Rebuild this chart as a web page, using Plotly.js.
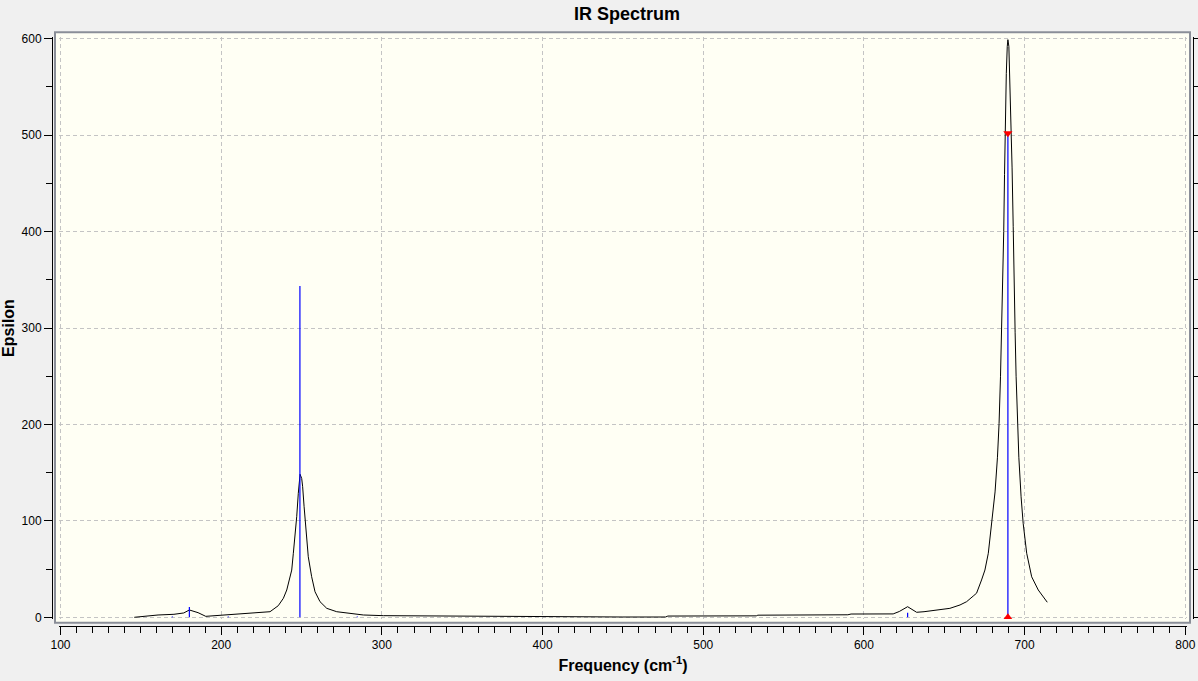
<!DOCTYPE html>
<html>
<head>
<meta charset="utf-8">
<script src="https://cdn.plot.ly/plotly-3.0.1.min.js"></script>
<style>
  html, body { margin: 0; padding: 0; background: #f0f0f0; }
  #chart { width: 1198px; height: 681px; }
</style>
</head>
<body>
<div id="chart"></div>
<script>
// Broadened IR spectrum (black curve)
const specFreq = [145.9, 151.4, 160.7, 170.6, 176.7, 180.2, 185.6, 190.4, 200, 212.9, 217.9, 222.9, 230.4,
  235.5, 238.7, 240.8, 242.4, 243.9, 244.9, 246.0, 247.0, 248.0, 248.6, 249.1, 250.1, 250.7, 251.6, 252.8,
  254.2, 256.3, 258.4, 261.5, 265.7, 271.9, 280.2, 288.5, 300.9, 350, 400, 450, 476.5, 478, 533, 534, 590,
  592, 618.2, 622, 627.2, 632.8, 637.4, 647.3, 653.5, 659.8, 663.9, 668, 670.1, 673.2, 675.3, 677.4, 679.8,
  681.6, 683.1, 684.1, 685.0, 685.7, 686.4, 687.0, 687.5, 688.0, 688.6, 689.2, 689.6, 690.2, 690.8, 691.5,
  692.2, 692.9, 693.3, 694.1, 694.7, 695.5, 696.4, 697.8, 699.1, 701.3, 704.4, 708.5, 714.1];
const specEps = [0, 1.0, 2.4, 3.1, 4.5, 7.6, 4.8, 1.0, 2.1, 3.4, 4.1, 5.2, 5.8,
  12.0, 19.7, 28.3, 38.7, 49, 66.4, 83.6, 104.3, 128.6, 145.8, 148.3, 144, 135.4, 114.7, 87.1,
  62.8, 42.1, 26.5, 16.2, 9.3, 5.8, 4.1, 2.4, 1.7, 1.0, 0.6, 0.3, 0.3, 1.3, 1.5, 2.2, 2.6,
  3.4, 3.5, 6, 11, 5.2, 5.8, 7.6, 9.3, 12.8, 16.2, 22, 25, 38.7, 49, 66.4, 101,
  130, 166, 201, 250, 295, 345, 400, 459, 516, 564, 592, 599, 592, 557, 512,
  466, 405, 345, 295, 250, 201, 166, 125, 97.5, 66.4, 42, 28.3, 15.6];

// Stick spectrum (blue lines): frequencies and intensities
const stickFreq = [169.6, 180.2, 204.4, 249.0, 284.7, 627.2, 689.6];
const stickEps  = [0.8, 10.7, 0.8, 343.6, 0.8, 4.8, 502];

// Selected peak markers (red triangles)
const selFreq = [689.6, 689.6];
const selEps  = [502, 0];
const selSymbols = ['triangle-down', 'triangle-up'];

// Tick settings
const xMajor = 100, xMinor = 10, yMajor = 100, yMinor = 50;

// build stick segments from the arrays
const sx = [], sy = [];
stickFreq.forEach((f, i) => { sx.push(f, f, null); sy.push(0, stickEps[i], null); });

// pixel geometry helpers (layout only)
const W = 1198, H = 681;
const mL = 52, mR = 5, mT = 32, mB = 55;
const pw = W - mL - mR, ph = H - mT - mB;
const px2fx = p => (p - mL) / pw;
const py2fy = p => (H - mB - p) / ph;

const font = 'Liberation Sans, Arial, sans-serif';

const traces = [
  { x: specFreq, y: specEps, type: 'scatter', mode: 'lines',
    line: { color: '#000000', width: 1 }, hoverinfo: 'x+y' },
  { x: sx, y: sy, type: 'scatter', mode: 'lines',
    line: { color: '#0000ff', width: 1.2 }, hoverinfo: 'skip' },
  { x: selFreq, y: selEps, type: 'scatter', mode: 'markers',
    marker: { color: '#ff0000', size: 8, symbol: selSymbols }, hoverinfo: 'skip' },
  { x: [], y: [], yaxis: 'y2', type: 'scatter', mode: 'lines', hoverinfo: 'skip' }
];

const gridStyle = { showgrid: true, gridcolor: '#c4c4c4', gridwidth: 1, griddash: '4px,3px' };

const layout = {
  width: W, height: H,
  margin: { l: mL, r: mR, t: mT, b: mB, pad: 0 },
  paper_bgcolor: '#f0f0f0',
  plot_bgcolor: 'rgba(0,0,0,0)',
  showlegend: false,
  title: { text: 'IR Spectrum', font: { family: font, size: 18, color: '#000', weight: 'bold' },
           x: 627 / W, xanchor: 'center', y: 1 - 14 / H, yanchor: 'middle' },
  xaxis: Object.assign({
    domain: [px2fx(59), px2fx(1187)],
    range: [100 - 1.5 / 1.6067, 800 + 1.7 / 1.6067],
    anchor: 'free', position: 0,
    showline: true, linecolor: '#000', linewidth: 1,
    ticks: 'outside', ticklen: 8, tickcolor: '#000', tickwidth: 1,
    tickmode: 'linear', tick0: 0, dtick: xMajor,
    minor: { dtick: xMinor, ticks: 'outside', ticklen: 6, tickcolor: '#000', showgrid: false },
    zeroline: false,
    tickfont: { family: font, size: 12, color: '#000' },
    title: { text: 'Frequency (cm<sup>-1</sup>)', font: { family: font, size: 16, color: '#000', weight: 'bold' }, standoff: 8 }
  }, gridStyle),
  yaxis: Object.assign({
    domain: [py2fy(619), py2fy(37)],
    range: [-1.7 / 0.9643, 600 + 1.7 / 0.9643],
    anchor: 'free', position: 0,
    showline: true, linecolor: '#000', linewidth: 1,
    ticks: 'outside', ticklen: 8, tickcolor: '#000', tickwidth: 1,
    tickmode: 'linear', tick0: 0, dtick: yMajor,
    minor: { dtick: yMinor, ticks: 'outside', ticklen: 6, tickcolor: '#000', showgrid: false },
    zeroline: false,
    tickfont: { family: font, size: 12, color: '#000' },
    title: { text: 'Epsilon', font: { family: font, size: 16, color: '#000', weight: 'bold' }, standoff: 4 }
  }, gridStyle),
  yaxis2: {
    overlaying: 'y', side: 'right', anchor: 'free', position: 1,
    range: [-1.7 / 0.9643, 600 + 1.7 / 0.9643],
    showline: true, linecolor: '#000', linewidth: 1,
    ticks: 'outside', ticklen: 6, tickcolor: '#000',
    tickmode: 'linear', tick0: 0, dtick: yMinor,
    showticklabels: false, showgrid: false, zeroline: false
  },
  shapes: [{
    type: 'rect', xref: 'paper', yref: 'paper', layer: 'below',
    x0: px2fx(55), x1: px2fx(1190), y0: py2fy(622.7), y1: py2fy(32.3),
    fillcolor: '#fffff4', line: { color: '#8a8e98', width: 2 }
  }]
};

Plotly.newPlot('chart', traces, layout, { displayModeBar: false, staticPlot: true });
</script>
</body>
</html>
